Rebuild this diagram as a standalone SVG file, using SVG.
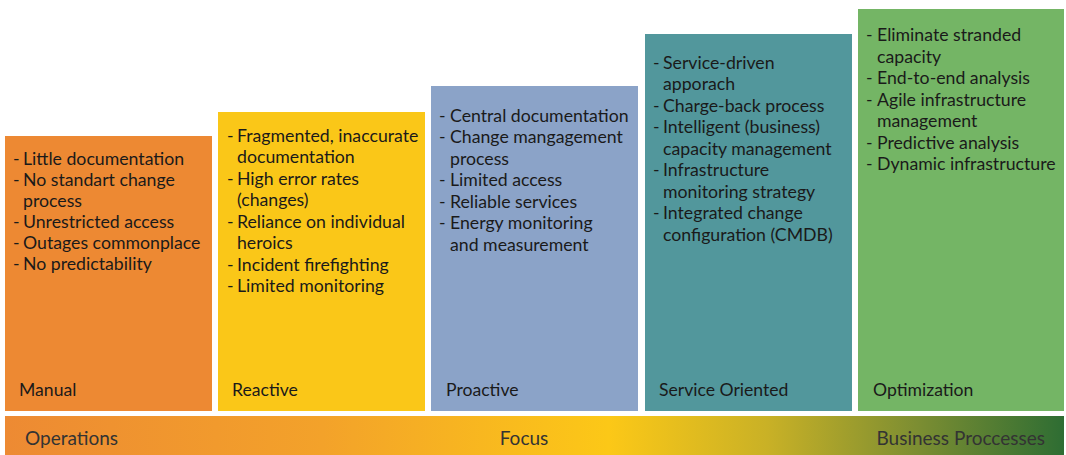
<svg xmlns="http://www.w3.org/2000/svg" width="1066" height="455" viewBox="0 0 1066 455">
<defs>
<linearGradient id="bar" x1="0" y1="0" x2="1" y2="0">
<stop offset="0" stop-color="#ED8A33"/>
<stop offset="0.3" stop-color="#F3A22A"/>
<stop offset="0.57" stop-color="#FCC817"/>
<stop offset="0.72" stop-color="#C9B126"/>
<stop offset="0.86" stop-color="#7D8E32"/>
<stop offset="1" stop-color="#2E6D33"/>
</linearGradient>
<style>
text{font-family:Lato,"Noto Sans","Liberation Sans",sans-serif;fill:#1a1a1a}
.it{font-size:17.7px}
.lb{font-size:17.6px}
.bar{font-size:19px;fill:#333}
</style>
</defs>
<rect width="1066" height="455" fill="#fff"/>
<g id="manual">
<rect x="5" y="136" width="207" height="275" fill="#ED8933"/>
<g class="it">
<text x="13" y="164.5">-</text><text x="23" y="164.5">Little documentation</text>
<text x="13" y="185.5">-</text><text x="23" y="185.5">No standart change</text>
<text x="23" y="206.5">process</text>
<text x="13" y="227.5">-</text><text x="23" y="227.5">Unrestricted access</text>
<text x="13" y="248.5">-</text><text x="23" y="248.5">Outages commonplace</text>
<text x="13" y="269.5">-</text><text x="23" y="269.5">No predictability</text>
</g>
<text class="lb" x="19" y="395.5">Manual</text>
</g>
<g id="reactive">
<rect x="218" y="112" width="207" height="299" fill="#FAC718"/>
<g class="it">
<text x="227" y="141.5">-</text><text x="237" y="141.5">Fragmented, inaccurate</text>
<text x="237" y="163">documentation</text>
<text x="227" y="184.5">-</text><text x="237" y="184.5">High error rates</text>
<text x="237" y="206">(changes)</text>
<text x="227" y="227.5">-</text><text x="237" y="227.5">Reliance on individual</text>
<text x="237" y="249">heroics</text>
<text x="227" y="270.5">-</text><text x="237" y="270.5">Incident firefighting</text>
<text x="227" y="292">-</text><text x="237" y="292">Limited monitoring</text>
</g>
<text class="lb" x="232" y="395.5">Reactive</text>
</g>
<g id="proactive">
<rect x="431" y="86" width="207" height="325" fill="#8BA3C8"/>
<g class="it">
<text x="439" y="121.5">-</text><text x="450" y="121.5">Central documentation</text>
<text x="439" y="143">-</text><text x="450" y="143">Change mangagement</text>
<text x="450" y="164.5">process</text>
<text x="439" y="186">-</text><text x="450" y="186">Limited access</text>
<text x="439" y="207.5">-</text><text x="450" y="207.5">Reliable services</text>
<text x="439" y="229">-</text><text x="450" y="229">Energy monitoring</text>
<text x="450" y="250.5">and measurement</text>
</g>
<text class="lb" x="446" y="395.5">Proactive</text>
</g>
<g id="service-oriented">
<rect x="645" y="34" width="207" height="377" fill="#52979C"/>
<g class="it">
<text x="653" y="68.5">-</text><text x="663" y="68.5">Service-driven</text>
<text x="663" y="90">apporach</text>
<text x="653" y="111.5">-</text><text x="663" y="111.5">Charge-back process</text>
<text x="653" y="133">-</text><text x="663" y="133">Intelligent (business)</text>
<text x="663" y="154.5">capacity management</text>
<text x="653" y="176">-</text><text x="663" y="176">Infrastructure</text>
<text x="663" y="197.5">monitoring strategy</text>
<text x="653" y="219">-</text><text x="663" y="219">Integrated change</text>
<text x="663" y="240.5">configuration (CMDB)</text>
</g>
<text class="lb" x="659" y="395.5">Service Oriented</text>
</g>
<g id="optimization">
<rect x="858" y="9" width="206" height="402" fill="#74B565"/>
<g class="it">
<text x="866" y="41">-</text><text x="877" y="41">Eliminate stranded</text>
<text x="877" y="62.5">capacity</text>
<text x="866" y="84">-</text><text x="877" y="84">End-to-end analysis</text>
<text x="866" y="105.5">-</text><text x="877" y="105.5">Agile infrastructure</text>
<text x="877" y="127">management</text>
<text x="866" y="148.5">-</text><text x="877" y="148.5">Predictive analysis</text>
<text x="866" y="170">-</text><text x="877" y="170">Dynamic infrastructure</text>
</g>
<text class="lb" x="873" y="395.5">Optimization</text>
</g>
<g id="focus-bar">
<rect x="5" y="416" width="1059" height="39" fill="url(#bar)"/>
<text class="bar" x="25" y="445">Operations</text>
<text class="bar" x="524" y="445" text-anchor="middle">Focus</text>
<text class="bar" x="1045" y="445" text-anchor="end">Business Proccesses</text>
</g>
<g id="connectors"/>
</svg>
